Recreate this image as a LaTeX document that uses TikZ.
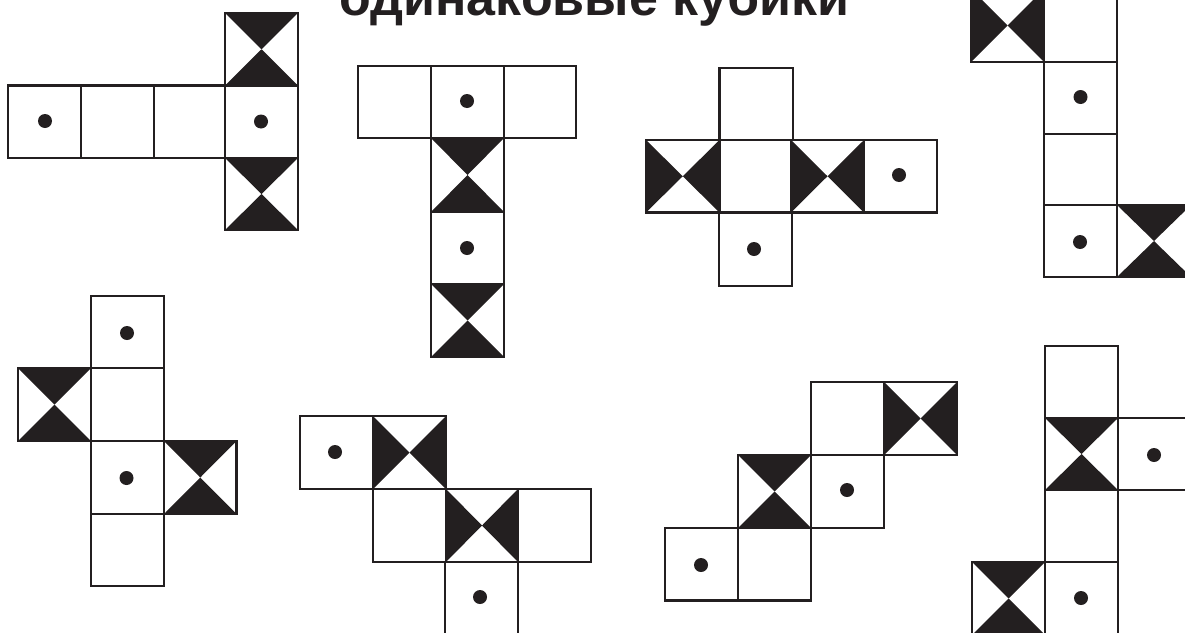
\documentclass[tikz,border=0pt]{standalone}
\usepackage{fontspec}
\setmainfont{Liberation Sans}
\definecolor{ink}{HTML}{231F20}
\tikzset{x=1pt,y=-1pt,
  cellline/.style={draw=ink,line width=2.5pt,line join=miter},
  wedge/.style={fill=ink},
  spot/.style={fill=ink},
  heading/.style={font=\bfseries\fontsize{52}{52}\selectfont,text=ink,anchor=base,inner sep=0pt}}
% #1,#2 top-left; #3,#4 bottom-right
\newcommand{\plaincell}[4]{\draw[cellline] (#1,#2) rectangle (#3,#4);}
\newcommand{\hourcell}[4]{%
  \fill[wedge] (#1,#2) -- (#3,#2) -- ({(#1+#3)/2},{(#2+#4)/2}) -- cycle;
  \fill[wedge] (#1,#4) -- (#3,#4) -- ({(#1+#3)/2},{(#2+#4)/2}) -- cycle;
  \draw[cellline] (#1,#2) rectangle (#3,#4);}
\newcommand{\bowcell}[4]{%
  \fill[wedge] (#1,#2) -- (#1,#4) -- ({(#1+#3)/2},{(#2+#4)/2}) -- cycle;
  \fill[wedge] (#3,#2) -- (#3,#4) -- ({(#1+#3)/2},{(#2+#4)/2}) -- cycle;
  \draw[cellline] (#1,#2) rectangle (#3,#4);}
\newcommand{\dotcell}[6]{%
  \draw[cellline] (#1,#2) rectangle (#3,#4);
  \fill[spot] (#5,#6) circle (7pt);}
\begin{document}
\begin{tikzpicture}
\useasboundingbox (0,0) rectangle (1185,632);
\clip (0,0) rectangle (1185,632);
\node[heading] (title) at (594.5,15) {одинаковые кубики};
% net 1
\dotcell{8}{85.5}{81}{158}{45}{121}
\plaincell{81}{85.5}{154}{158}
\plaincell{154}{85.5}{225}{158}
\dotcell{225}{85.5}{298}{158}{261}{121.5}
\hourcell{225}{13}{298}{85.5}
\hourcell{225}{158}{298}{230}
% net 2
\plaincell{358}{66}{431}{138}
\dotcell{431}{66}{504}{138}{467}{101}
\plaincell{504}{66}{576}{138}
\hourcell{431}{138}{504}{212}
\dotcell{431}{212}{504}{284}{467}{248}
\hourcell{431}{284}{504}{357}
% net 3
\plaincell{719.5}{68}{793}{140}
\bowcell{646}{140}{719.5}{212.5}
\plaincell{719.5}{140}{791}{212.5}
\bowcell{791}{140}{864}{212.5}
\dotcell{864}{140}{937}{212.5}{899}{175}
\dotcell{719}{212.5}{792}{286}{754}{249}
% net 4
\bowcell{971}{-11}{1044}{62}
\plaincell{1044}{-11}{1117}{62}
\dotcell{1044}{62}{1117}{134}{1080.5}{97}
\plaincell{1044}{134}{1117}{205}
\dotcell{1044}{205}{1117}{277}{1080}{242}
\hourcell{1117}{205}{1191}{277}
% net 5
\dotcell{91}{296}{164}{368}{127}{333}
\hourcell{18}{368}{91}{441}
\plaincell{91}{368}{164}{441}
\dotcell{91}{441}{164}{514}{126.5}{478}
\hourcell{164}{441}{236.5}{514}
\plaincell{91}{514}{164}{586}
% net 6
\dotcell{300}{416}{373}{489}{335}{452}
\bowcell{373}{416}{446}{489}
\plaincell{373}{489}{446}{562}
\bowcell{446}{489}{518}{562}
\plaincell{518}{489}{591}{562}
\dotcell{445}{562}{518}{636}{480}{597}
% net 7
\plaincell{811}{382}{884}{455}
\bowcell{884}{382}{957}{455}
\hourcell{738}{455}{811}{528}
\dotcell{811}{455}{884}{528}{847}{490}
\dotcell{665}{528}{738}{600.5}{701}{565}
\plaincell{738}{528}{811}{600.5}
% net 8
\plaincell{1045}{346}{1118}{418}
\hourcell{1045}{418}{1118}{490}
\dotcell{1118}{418}{1191}{490}{1154}{455}
\plaincell{1045}{490}{1118}{562}
\hourcell{972}{562}{1045}{635}
\dotcell{1045}{562}{1118}{636}{1081}{598}
\end{tikzpicture}
\end{document}
